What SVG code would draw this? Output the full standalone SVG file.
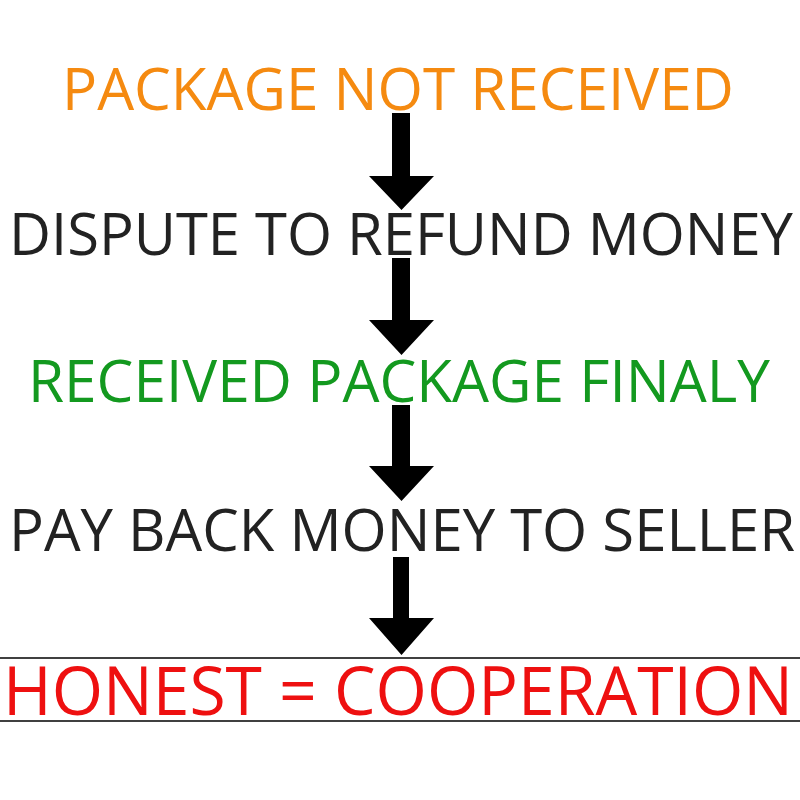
<svg xmlns="http://www.w3.org/2000/svg" width="800" height="800" viewBox="0 0 800 800">
<style>
.t{font-family:"Open Sans","Liberation Sans",sans-serif;font-size:59px;}
.big{font-size:67px;}
.arrow{fill:#000;}
.rule{stroke:#000;stroke-width:1.5;}
</style>
<rect width="800" height="800" fill="#fff"/>
<g id="connectors">
<path id="a1" class="arrow" d="M392,113 H410 V176 H434 L401.5,210 L369,176 H392 Z"/>
<path id="a2" class="arrow" d="M392,258 H410 V320 H434 L401.5,355 L369,320 H392 Z"/>
<path id="a3" class="arrow" d="M392,405 H410 V466 H434 L401.5,501 L369,466 H392 Z"/>
<path id="a4" class="arrow" d="M393,557 H409 V618 H434 L401.5,655 L369,618 H393 Z"/>
</g>
<g id="n1"><text class="t" x="62" y="110" fill="#F58A10" textLength="672" lengthAdjust="spacingAndGlyphs">PACKAGE NOT RECEIVED</text></g>
<g id="n2"><text class="t" x="9" y="255" fill="#222" textLength="784" lengthAdjust="spacingAndGlyphs">DISPUTE TO REFUND MONEY</text></g>
<g id="n3"><text class="t" x="28" y="402" fill="#13991F" textLength="742" lengthAdjust="spacingAndGlyphs">RECEIVED PACKAGE FINALY</text></g>
<g id="n4"><text class="t" x="9" y="551" fill="#222" textLength="786" lengthAdjust="spacingAndGlyphs">PAY BACK MONEY TO SELLER</text></g>
<g id="n5">
<line class="rule" x1="0" y1="658" x2="800" y2="658"/>
<line class="rule" x1="0" y1="721" x2="800" y2="721"/>
<text class="t big" x="3" y="715" fill="#EE1010" textLength="790" lengthAdjust="spacingAndGlyphs">HONEST = COOPERATION</text>
</g>
</svg>
